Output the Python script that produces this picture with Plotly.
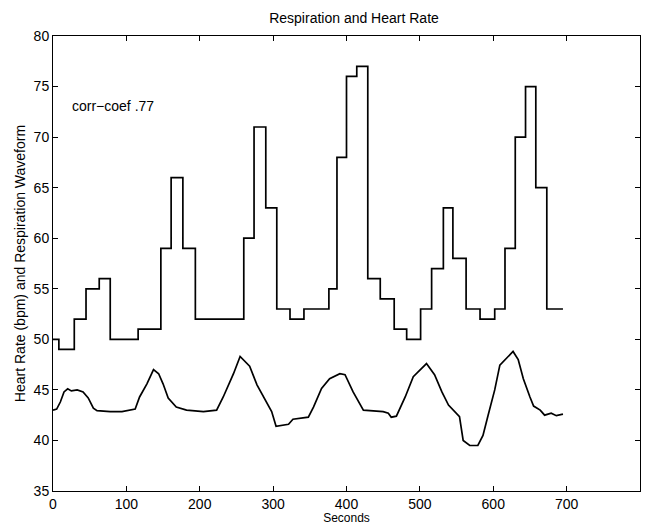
import plotly.graph_objects as go

# Heart rate (step function): change times (s) and values (bpm)
hr_time = [0, 8, 29, 45, 63, 78, 116, 147, 161, 177, 194, 260, 274, 290, 305, 323,
           342, 376, 387, 400, 414, 429, 446, 465, 482, 501, 516, 532, 545, 563,
           582, 602, 616, 630, 644, 658, 673, 695]
hr_value = [50, 49, 52, 55, 56, 50, 51, 59, 66, 59, 52, 60, 71, 63, 53, 52,
            53, 55, 68, 76, 77, 56, 54, 51, 50, 53, 57, 63, 58, 53,
            52, 53, 59, 70, 75, 65, 53, 53]

# Respiration waveform
resp_time = [0, 5, 10, 15, 20, 25, 33, 41, 48, 55, 60, 78, 94, 112, 118, 128, 137,
             144, 150, 157, 168, 182, 205, 223, 232, 246, 255, 268, 278, 289, 296,
             298, 304, 321, 327, 348, 355, 366, 377, 391, 398, 409, 423, 439, 450,
             457, 461, 468, 480, 491, 509, 520, 530, 539, 545, 554, 559, 568, 579,
             586, 593, 602, 609, 616, 620, 627, 634, 641, 650, 655, 664, 670, 679,
             686, 695]
resp_value = [43.0, 43.1, 43.8, 44.8, 45.1, 44.9, 45.0, 44.8, 44.2, 43.2, 42.95, 42.85,
              42.85, 43.1, 44.3, 45.6, 47.0, 46.6, 45.6, 44.2, 43.3, 43.0, 42.85, 43.0,
              44.3, 46.6, 48.3, 47.35, 45.5, 44.0, 43.2, 42.85, 41.4, 41.6, 42.1, 42.3,
              43.3, 45.15, 46.1, 46.6, 46.5, 44.8, 43.0, 42.9, 42.85, 42.7, 42.3, 42.4,
              44.3, 46.3, 47.6, 46.5, 44.8, 43.5, 43.0, 42.35, 40.0, 39.5, 39.5, 40.5,
              42.5, 45.0, 47.45, 48.0, 48.3, 48.8, 48.0, 46.1, 44.3, 43.4, 43.0, 42.5,
              42.7, 42.45, 42.6]

x_ticks = list(range(0, 801, 100))
y_ticks = list(range(35, 81, 5))

FONT = "Liberation Sans, Arial, Helvetica, sans-serif"

fig = go.Figure()
fig.add_trace(go.Scatter(x=hr_time, y=hr_value, mode="lines", line_shape="hv",
                         line=dict(color="black", width=1.7), showlegend=False))
fig.add_trace(go.Scatter(x=resp_time, y=resp_value, mode="lines",
                         line=dict(color="black", width=1.7), showlegend=False))

fig.add_annotation(x=23, y=73.1, xref="x", yref="y", text="corr\u2212coef .77",
                   showarrow=False, xanchor="left", yanchor="middle",
                   font=dict(family=FONT, size=14, color="black"))

axis_common = dict(showgrid=False, zeroline=False, showline=True, linecolor="black",
                   linewidth=1, mirror="ticks", ticks="inside", ticklen=5,
                   tickcolor="black", tickfont=dict(family=FONT, size=14, color="black"))

fig.update_xaxes(range=[0, 800], tickvals=x_ticks, ticktext=[str(v) for v in x_ticks],
                 title=dict(text="Seconds", font=dict(family=FONT, size=12, color="black"),
                            standoff=2),
                 automargin=False, **axis_common)
fig.update_yaxes(range=[35, 80], tickvals=y_ticks, ticktext=[str(v) for v in y_ticks],
                 title=dict(text="Heart Rate (bpm) and Respiration Waveform",
                            font=dict(family=FONT, size=14, color="black"), standoff=4),
                 automargin=False, **axis_common)

fig.update_layout(
    width=642, height=517,
    margin=dict(l=45, r=10, t=28, b=34),
    paper_bgcolor="white", plot_bgcolor="white",
    title=dict(text="Respiration and Heart Rate", x=(354 - 8) / 642, xanchor="center",
               y=1 - 10 / 517, yanchor="middle",
               font=dict(family=FONT, size=14, color="black")),
)

fig.write_html("out.html")
